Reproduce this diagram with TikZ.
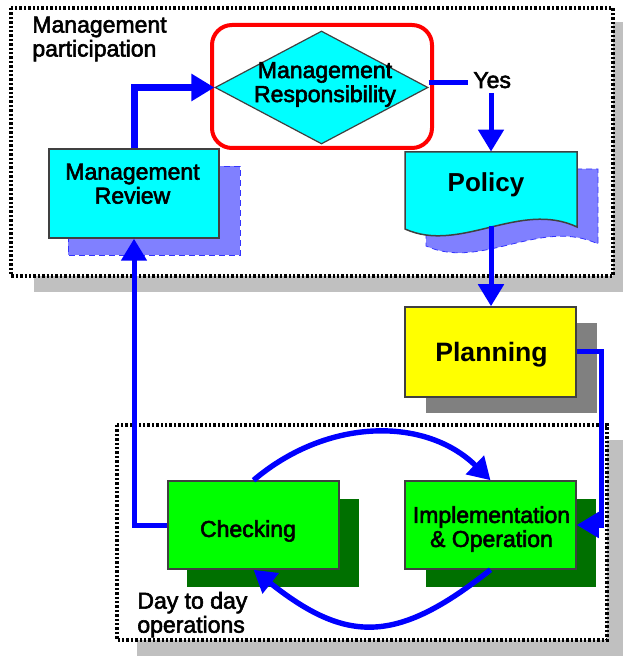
\documentclass[tikz,border=0pt]{standalone}
\usepackage{fontspec}
\setmainfont{Liberation Sans}
\newfontfamily\heavyfont[FakeBold=2.5]{Liberation Sans}
\usetikzlibrary{arrows.meta,shapes.geometric,calc}
\definecolor{boxcyan}{HTML}{00FFFF}
\definecolor{boxyellow}{HTML}{FFFF00}
\definecolor{boxgreen}{HTML}{00FF00}
\definecolor{shgreen}{HTML}{007000}
\definecolor{shblue}{HTML}{8080FF}
\definecolor{shgray}{HTML}{808080}
\definecolor{shlight}{HTML}{C0C0C0}
\definecolor{arrblue}{HTML}{0000FF}
\definecolor{edge}{HTML}{404040}
\begin{document}
\begin{tikzpicture}[x=0.5pt,y=-0.5pt,
  lbl/.style={font=\fontsize{11.5pt}{12pt}\heavyfont, align=center, inner sep=0pt, text=black},
  boldlbl/.style={font=\fontsize{13pt}{14pt}\selectfont\bfseries, inner sep=0pt, text=black},
  box/.style={draw=edge, line width=0.75pt, inner sep=0pt, minimum width=85.5pt, minimum height=44pt},
  frame/.style={draw=black, fill=white, line width=1.7pt, dash pattern=on 1.2pt off 1.0pt},
  bshadow/.style={fill=shblue, draw=arrblue!80, line width=0.4pt, densely dashed},
  conn/.style={draw=arrblue, line width=2.5pt},
  arr/.style={draw=arrblue, line width=2.5pt, -{Triangle[length=11pt,width=12.5pt]}},
  bigarr/.style={draw=arrblue, line width=3.5pt, -{Triangle[length=11.5pt,width=13pt]}}]
\useasboundingbox (0,0) rectangle (623,656);

% group frames with shadows
\fill[shlight] (34,22) rectangle (623,292);
\draw[frame] (11,8) rectangle (613,276);
\fill[shlight] (137,440) rectangle (623,656);
\draw[frame] (117,425) rectangle (607,640);

\node[lbl, align=left, anchor=west] (mp) at (32,39) {Management\\participation};
\node[lbl, align=left, anchor=west] (dd) at (137,614.7) {Day to day\\operations};

% shadows
\draw[bshadow] (68,166) rectangle (240,255);
\draw[bshadow] (426,169) -- (598,169) -- (598,244) .. controls (541,217) and (481,271) .. (426,246) -- cycle;
\fill[shgray] (426,323) rectangle (597,413);
\fill[shgreen] (187,499) rectangle (359,587);
\fill[shgreen] (426,499) rectangle (596,587);

% nodes
\node[box, fill=boxcyan, minimum width=85pt, minimum height=44.5pt,
  label={[lbl, name=mrl, xshift=-0.75pt, yshift=4.85pt]center:Management\\Review}] (mr) at (134,193.5) {};
\node[draw=edge, line width=0.6pt, fill=boxcyan, diamond, inner sep=0pt,
  minimum width=106.5pt, minimum height=56.5pt,
  label={[lbl, name=dial, xshift=1.75pt, yshift=1.5pt]center:Management\\Responsibility}] (dia) at (321.5,87.5) {};
\draw[red, line width=2pt, rounded corners=10pt] (212,25) rectangle (432,148);

\fill[boxcyan, draw=edge, line width=0.75pt] (405,152) -- (577,152) -- (577,227) .. controls (520,200) and (460,254) .. (405,229) -- cycle;
\node[inner sep=0pt, minimum width=86pt, minimum height=43pt,
  label={[boldlbl, name=poll, xshift=-2.5pt, yshift=5pt]center:Policy}] (policy) at (491,195) {};

\node[box, fill=boxyellow, minimum height=45pt,
  label={[boldlbl, font=\fontsize{13.3pt}{14pt}\selectfont\bfseries, name=planl, xshift=0.5pt, yshift=-1.5pt]center:Planning}] (planning) at (490.5,352) {};
\node[box, fill=boxgreen,
  label={[lbl, name=checkl, xshift=-2.75pt, yshift=-3pt]center:Checking}] (check) at (253.5,525) {};
\node[box, fill=boxgreen,
  label={[lbl, name=impll, xshift=0.5pt, yshift=-2pt]center:Implementation\\\& Operation}] (impl) at (490.5,525) {};

\node[lbl, anchor=base west] (yes) at (473,88) {Yes};

% connectors
\coordinate (yesl) at (468,83);
\coordinate (yesd) at (491,93);
\coordinate (polout) at (491,226);
\draw[bigarr] (mr.north) |- (dia.west);
\draw[conn] (dia.east |- yesl) -- (yesl);
\draw[arr] (yesd) -- (yesd |- policy.north);
\draw[arr] (polout) -- (polout |- planning.north);
\draw[arr] (planning.east) -- ++(25,0) |- (impl.east);
\draw[arr] (check.west) -| (mr.south);
\draw[arr, line width=2.7pt] (check.north) .. controls (328,417) and (426,417) .. (impl.north);
\draw[arr, line width=2.7pt] (impl.south) .. controls (397,644) and (347,644) .. (check.south);
\end{tikzpicture}
\end{document}
